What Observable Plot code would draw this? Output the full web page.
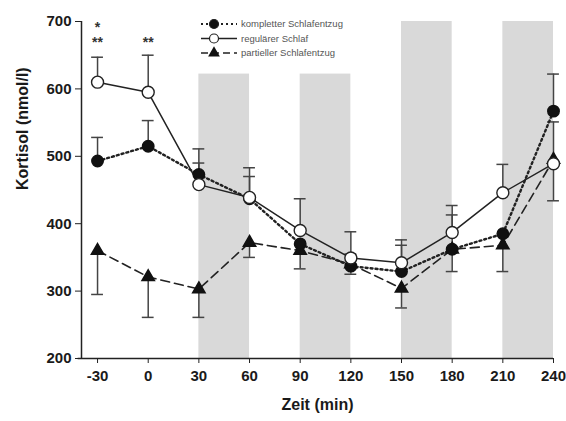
<!DOCTYPE html>
<html>
<head>
<meta charset="utf-8">
<script src="https://cdn.jsdelivr.net/npm/d3@7"></script>
<script src="https://cdn.jsdelivr.net/npm/@observablehq/plot@0.6"></script>
<style>
  body { margin: 0; background: #fff; }
  #wrap { position: relative; width: 566px; height: 421px; }
  #legend { position: absolute; left: 195px; top: 16px; }
  svg text { font-family: "Liberation Sans", Arial, sans-serif; }
</style>
</head>
<body>
<div id="wrap"><div id="legend"></div></div>
<script>
// ---- data ----
const times = [-30, 0, 30, 60, 90, 120, 150, 180, 210, 240];
const xTicks = [-30, 0, 30, 60, 90, 120, 150, 180, 210, 240];
const yTicks = [200, 300, 400, 500, 600, 700];

const komplett     = [493, 515, 473, 437, 370, 337, 329, 362, 385, 567];
const komplettErr  = [528, 553, 490, 470, null, 355, 368, 413, null, 622];
const regulaer     = [610, 595, 458, 439, 390, 349, 342, 387, 446, 489];
const regulaerErr  = [647, 650, 511, 483, 437, 388, 376, 427, 488, 551];
const partiell     = [360, 321, 303, 372, 360, 340, 304, 362, 368, 495];
const partiellErr  = [295, 261, 261, 350, 333, 325, 275, 329, 329, 434];

const bandStart = [30, 90, 150, 210];
const bandEnd   = [60, 120, 180, 240];
const bandTop   = [622, 622, 700, 700];

const starX = [-30, -30, 0];
const starY = [691, 669, 669];
const starLabel = ["*", "**", "**"];

const seriesNames = ["kompletter Schlafentzug", "regulärer Schlaf", "partieller Schlafentzug"];

// ---- tables ----
const mk = (vals, errs, name) => times.map((t, i) => ({t, v: vals[i], e: errs[i], name}));
const K = mk(komplett, komplettErr, seriesNames[0]);
const R = mk(regulaer, regulaerErr, seriesNames[1]);
const P = mk(partiell, partiellErr, seriesNames[2]);
const allErr = [...K, ...R, ...P].filter(d => d.e != null);
const bands = bandStart.map((s, i) => ({x1: s, x2: bandEnd[i], top: bandTop[i]}));
const stars = starX.map((x, i) => ({x, y: starY[i], label: starLabel[i]}));

const xMin = -39.5;
const capHalf = 3.5;

const chart = Plot.plot({
  width: 566,
  height: 421,
  marginLeft: 81,
  marginRight: 13,
  marginTop: 21,
  marginBottom: 63,
  style: {fontFamily: "Liberation Sans, Arial, sans-serif", background: "white", color: "#1a1a1a"},
  x: {domain: [xMin, 240]},
  y: {domain: [200, 700]},
  marks: [
    Plot.rect(bands, {x1: "x1", x2: "x2", y1: 200, y2: "top", fill: "#d9d9d9"}),
    Plot.ruleX([xMin], {y1: 200, y2: 700, stroke: "#222", strokeWidth: 1.5}),
    Plot.ruleY([200], {x1: xMin - 2, x2: 240, stroke: "#222", strokeWidth: 1.5}),
    Plot.axisY({ticks: yTicks, tickSize: 6, tickPadding: 4, fontSize: 15, fontWeight: "bold",
      label: null, stroke: "#222", tickFormat: d => String(d)}),
    Plot.axisX({ticks: xTicks, tickSize: 5, tickPadding: 7, fontSize: 15, fontWeight: "bold",
      label: null, stroke: "#222", tickFormat: d => String(d)}),
    Plot.text(["Kortisol (nmol/l)"], {frameAnchor: "left", dx: -59, rotate: -90, fontSize: 16,
      fontWeight: "bold", fill: "#1a1a1a"}),
    Plot.text(["Zeit (min)"], {frameAnchor: "bottom", dy: 51, fontSize: 16, fontWeight: "bold",
      fill: "#1a1a1a"}),
    // error bars
    Plot.ruleX(allErr, {x: "t", y1: "v", y2: "e", stroke: "#444", strokeWidth: 1.5}),
    Plot.ruleY(allErr, {y: "e", x1: d => d.t - capHalf, x2: d => d.t + capHalf, stroke: "#444", strokeWidth: 1.5}),
    // lines
    Plot.line(P, {x: "t", y: "v", stroke: "#222", strokeWidth: 1.6, strokeDasharray: "9,5"}),
    Plot.line(K, {x: "t", y: "v", stroke: "#222", strokeWidth: 2.4, strokeDasharray: "2,3"}),
    Plot.line(R, {x: "t", y: "v", stroke: "#222", strokeWidth: 1.5}),
    // markers
    Plot.dot(P, {x: "t", y: "v", symbol: "triangle", r: 4.6, fill: "#111", stroke: "#111"}),
    Plot.dot(K, {x: "t", y: "v", r: 5.7, fill: "#111", stroke: "#111"}),
    Plot.dot(R, {x: "t", y: "v", r: 6, fill: "white", stroke: "#222", strokeWidth: 1.4}),
    Plot.text(stars, {x: "x", y: "y", text: "label", fontSize: 14, fontWeight: "bold", fill: "#333"})
  ]
});
document.getElementById("wrap").prepend(chart);

// ---- legend ----
const lg = d3.select("#legend").append("svg").attr("width", 200).attr("height", 48);
const rows = [
  {dash: "2,3", w: 2.2, sym: "circle", fill: "#111"},
  {dash: null, w: 1.5, sym: "circle", fill: "white"},
  {dash: "7,4", w: 1.6, sym: "triangle", fill: "#111"}
];
rows.forEach((r, i) => {
  const y = 8 + i * 14.5;
  const line = lg.append("line").attr("x1", 6).attr("x2", 42).attr("y1", y).attr("y2", y)
    .attr("stroke", "#222").attr("stroke-width", r.w);
  if (r.dash) line.attr("stroke-dasharray", r.dash);
  if (r.sym === "circle") {
    lg.append("circle").attr("cx", 19).attr("cy", y).attr("r", 4.5)
      .attr("fill", r.fill).attr("stroke", "#222").attr("stroke-width", 1.2);
  } else {
    lg.append("path").attr("d", d3.symbol(d3.symbolTriangle, 60)())
      .attr("transform", `translate(19,${y})`).attr("fill", "#111");
  }
  lg.append("text").attr("x", 46).attr("y", y + 3).attr("font-size", 9.5)
    .attr("fill", "#555").text(seriesNames[i]);
});
</script>
</body>
</html>
